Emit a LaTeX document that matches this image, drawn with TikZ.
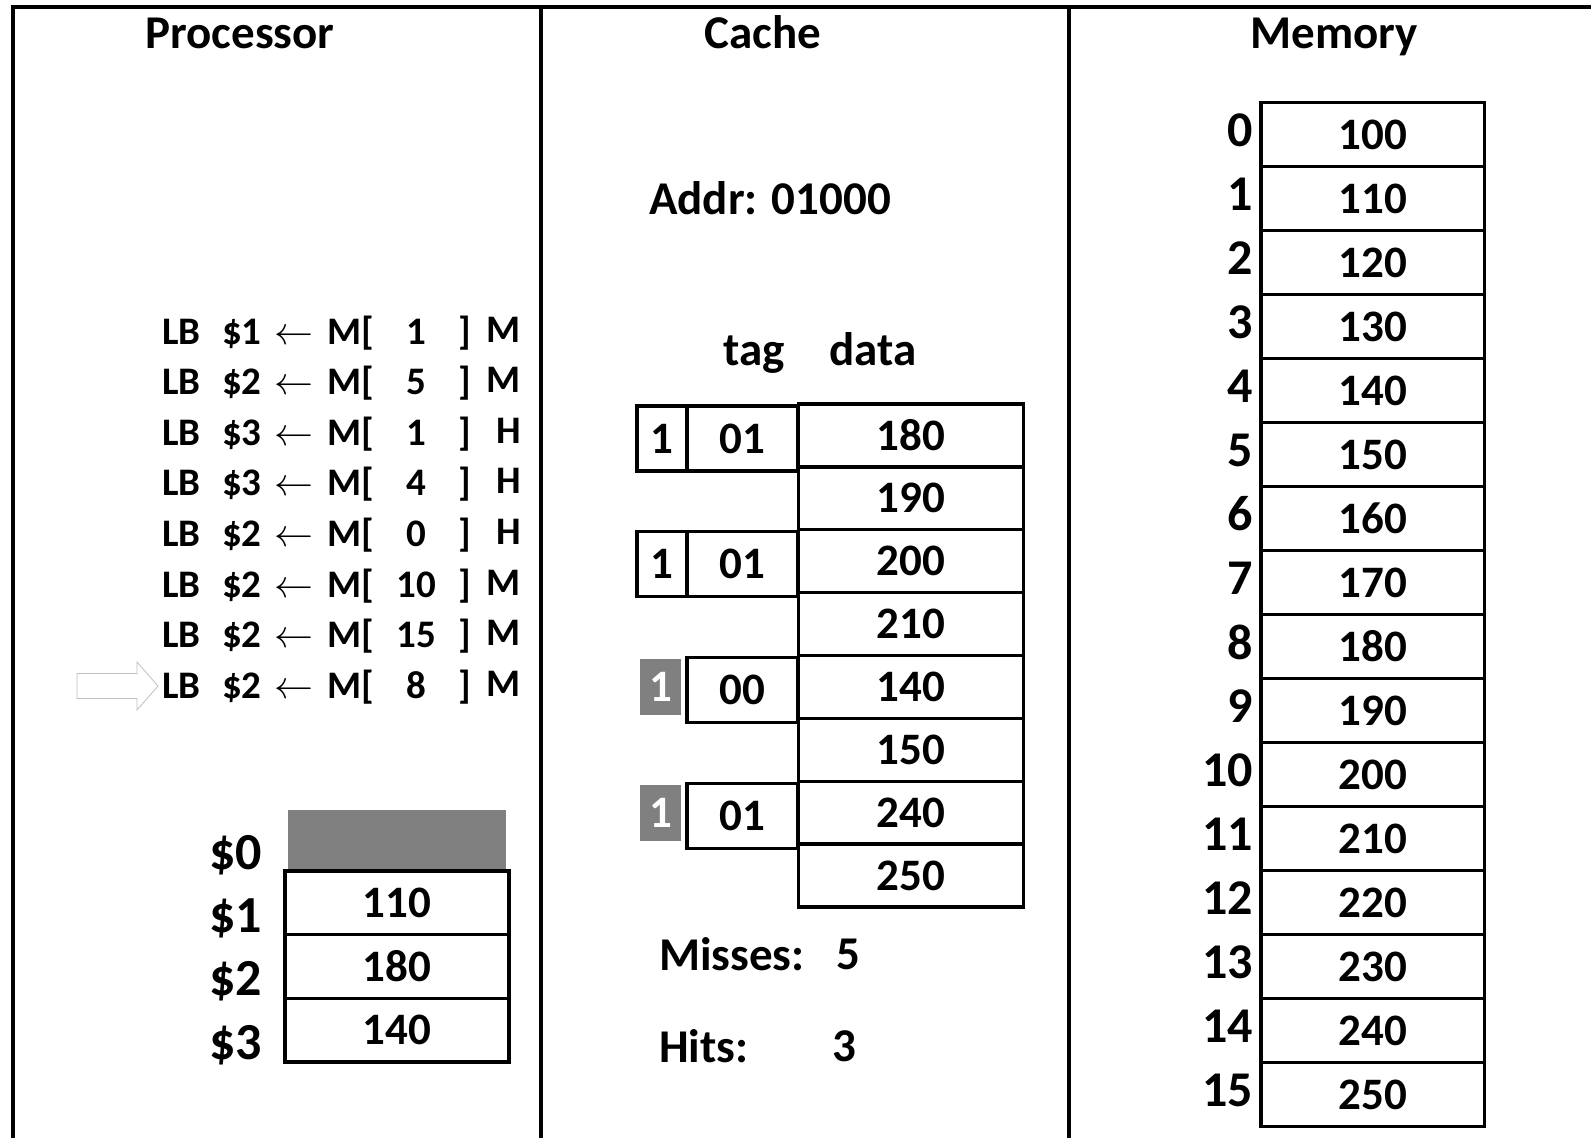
\documentclass[tikz,border=0pt]{standalone}
\usepackage{fix-cm}
\usepackage{fontspec}
\setmainfont{Carlito}
\begin{document}
\begin{tikzpicture}[x=1pt, y=-1pt,
  every node/.style={inner sep=0pt},
  frame/.style={line width=4pt},
  head/.style={font=\fontsize{47}{50}\selectfont\bfseries, anchor=base},
  big/.style={font=\fontsize{47}{50}\selectfont\bfseries},
  instr/.style={font=\fontsize{39}{42}\selectfont\bfseries},
  cell/.style={draw, line width=3.5pt, font=\fontsize{45}{48}\selectfont\bfseries},
  memcell/.style={cell, minimum width=223.5pt, minimum height=64pt},
  datacell/.style={cell, minimum width=225pt, minimum height=62.9pt},
  tagcell/.style={cell, minimum width=111pt, minimum height=65pt},
  validcell/.style={cell, minimum width=50pt, minimum height=65pt},
  validgray/.style={fill=gray, text=white, minimum width=41pt, minimum height=56pt,
    font=\fontsize{45}{48}\selectfont\bfseries},
  regcell/.style={cell, minimum width=224pt, minimum height=63.7pt},
  addr/.style={font=\fontsize{50}{52}\selectfont\bfseries, anchor=east},
  reglbl/.style={font=\fontsize{52}{54}\selectfont\bfseries, anchor=base east}]
\useasboundingbox (0,0) rectangle (1591,1138);

% Columns
\draw[frame] (13,1138) |- (1591,7);
\draw[frame] (541,7) -- (541,1138);
\draw[frame] (1069,7) -- (1069,1138);
\node[head] (hproc) at (240,48) {Processor};
\node[head] (hcache) at (763,48) {Cache};
\node[head] (hmem) at (1334,48) {Memory};

% Processor: instructions
\foreach \r/\n/\res [count=\i from 0] in {1/1/M,2/5/M,3/1/H,3/4/H,2/0/H,2/10/M,2/15/M,2/8/M} {
  \node[instr, anchor=base west] (ld\i) at (162,344+50.6*\i)
    {\makebox[60pt][l]{LB}\makebox[52pt][l]{\$\r}\makebox[53pt][l]{$\leftarrow$}M[\makebox[85pt][c]{\n}]};
  \node[instr, anchor=base east] (res\i) at (521,342+50.6*\i) {\res};
}
% current instruction pointer
\draw[gray!50, line width=0.8pt] (77,673.5) -- (137,673.5) -- (137,662) -- (158,686)
  -- (137,710) -- (137,698.5) -- (77,698.5) -- cycle;

% Processor: registers
\node[regcell, fill=gray, draw=none, minimum width=218pt, minimum height=60pt] (reg0) at (397,840) {};
\foreach \v [count=\k] in {110,180,140}
  \node[regcell] (reg\k) at (397,871+63.7*\k-31.85) {\v};
\foreach \k in {0,...,3}
  \node[reglbl] (rl\k) at (262,869+63.4*\k) {\$\k};

% Cache
\node[big, anchor=west] (addr) at (649,198) {Addr: 01000};
\node[big, anchor=base] (ltag) at (754,365) {tag};
\node[big, anchor=base] (ldata) at (873,365) {data};
\foreach \v [count=\k from 0] in {180,190,200,210,140,150,240,250}
  \node[datacell] (data\k) at (911.2,403.9+62.9*\k+31.45) {\v};
\foreach \t/\s in {01/0,01/1,00/2,01/3}
  \node[tagcell] (tag\s) at (742.5,403.9+125.8*\s+34.5) {\t};
\foreach \s in {0,1}
  \node[validcell] (valid\s) at (662,403.9+125.8*\s+34.5) {1};
\foreach \s in {2,3}
  \node[validgray] (valid\s) at (660.5,403.9+125.8*\s+31.45) {1};
\node[big, anchor=west] (lmiss) at (659,954) {Misses:};
\node[big] (nmiss) at (848,954) {5};
\node[big, anchor=west] (lhit) at (659,1046) {Hits:};
\node[big] (nhit) at (844,1046) {3};

% Memory
\foreach \k in {0,...,15} {
  \pgfmathtruncatemacro\val{100+10*\k}
  \node[memcell] (mem\k) at (1372.7,102.5+64*\k+32) {\val};
  \node[addr] (addr\k) at (1253,102.5+64*\k+27.5) {\k};
}
\end{tikzpicture}
\end{document}
